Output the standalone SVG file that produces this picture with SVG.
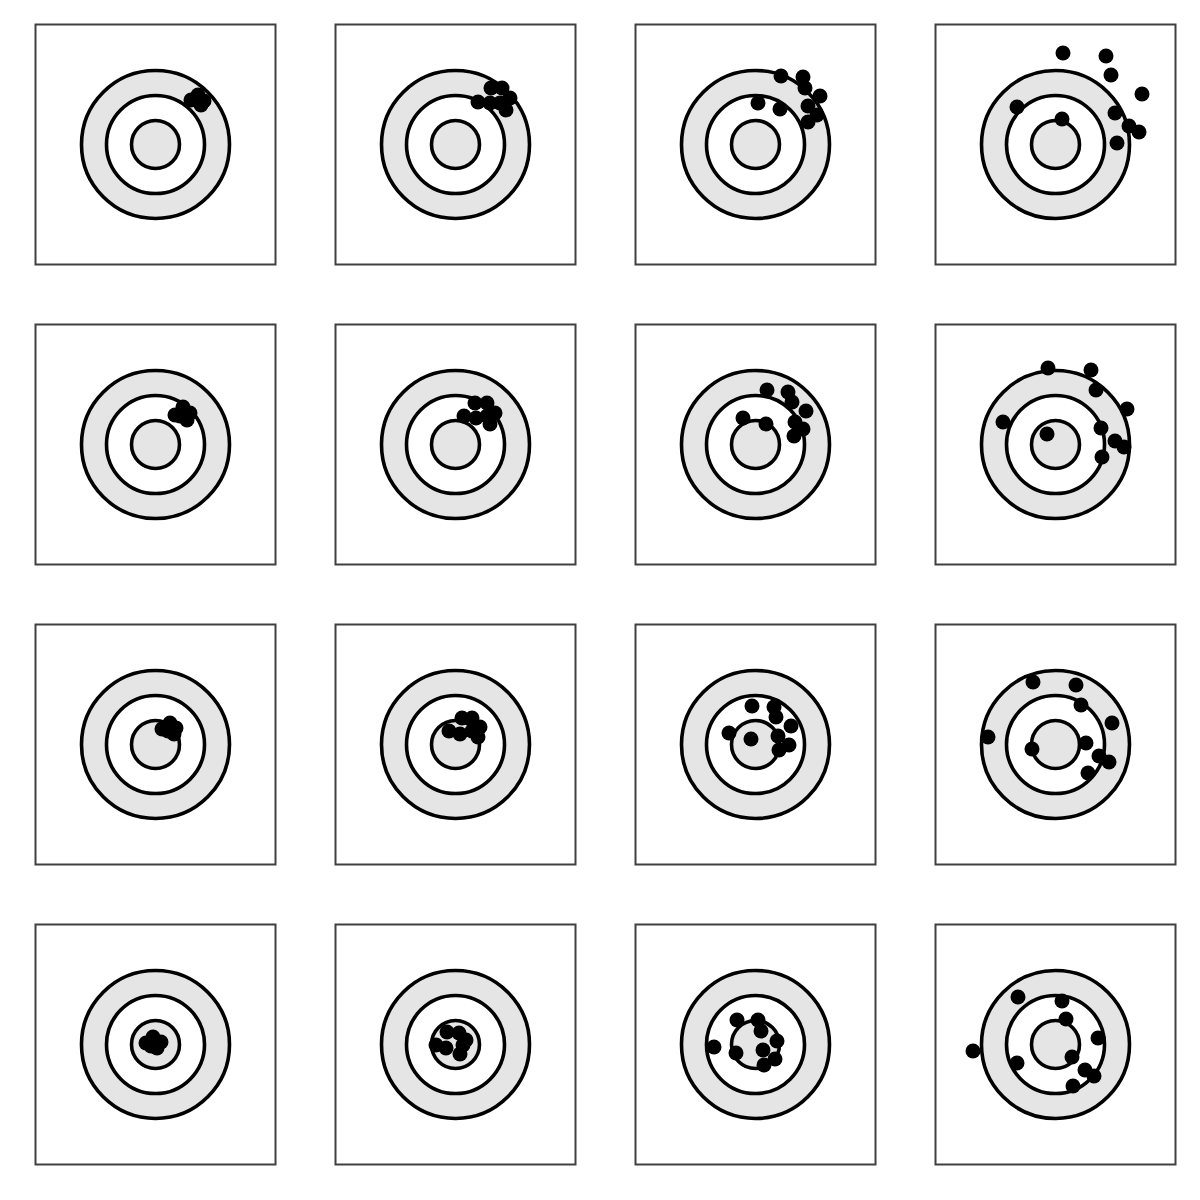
<svg xmlns="http://www.w3.org/2000/svg" xmlns:xlink="http://www.w3.org/1999/xlink" width="1200" height="1200" viewBox="0 0 1200 1200">
<style>
.frame{fill:#fff;stroke:#404040;stroke-width:2}
.ring{stroke:#000;stroke-width:3.6}
.g{fill:#e5e5e5}
.w{fill:#fff}
.d circle{fill:#000}
</style>
<defs>
<g id="target">
<rect class="frame" x="-120" y="-120" width="240" height="240"/>
<circle class="ring g" r="74"/>
<circle class="ring w" r="49"/>
<circle class="ring g" r="24"/>
</g>
</defs>
<rect width="1200" height="1200" fill="#fff"/>
<g id="p11"><use xlink:href="#target" x="155.5" y="144.5"/><g class="d"><circle cx="191" cy="100" r="7.5"/><circle cx="198" cy="95" r="7.5"/><circle cx="204" cy="101" r="7.5"/><circle cx="201" cy="105" r="7.5"/><circle cx="196" cy="99" r="7.5"/></g></g>
<g id="p12"><use xlink:href="#target" x="455.5" y="144.5"/><g class="d"><circle cx="478" cy="102" r="7.5"/><circle cx="491" cy="88" r="7.5"/><circle cx="502" cy="88" r="7.5"/><circle cx="510" cy="98" r="7.5"/><circle cx="506" cy="110" r="7.5"/><circle cx="500" cy="103" r="7.5"/><circle cx="490" cy="103" r="7.5"/></g></g>
<g id="p13"><use xlink:href="#target" x="755.5" y="144.5"/><g class="d"><circle cx="781" cy="76" r="7.5"/><circle cx="803" cy="77" r="7.5"/><circle cx="805" cy="88" r="7.5"/><circle cx="820" cy="96" r="7.5"/><circle cx="758" cy="103" r="7.5"/><circle cx="780" cy="109" r="7.5"/><circle cx="808" cy="106" r="7.5"/><circle cx="817" cy="115" r="7.5"/><circle cx="808" cy="122" r="7.5"/></g></g>
<g id="p14"><use xlink:href="#target" x="1055.5" y="144.5"/><g class="d"><circle cx="1063" cy="53" r="7.5"/><circle cx="1106" cy="56" r="7.5"/><circle cx="1111" cy="75" r="7.5"/><circle cx="1142" cy="94" r="7.5"/><circle cx="1017" cy="107" r="7.5"/><circle cx="1062" cy="119" r="7.5"/><circle cx="1115" cy="113" r="7.5"/><circle cx="1129" cy="126" r="7.5"/><circle cx="1139" cy="132" r="7.5"/><circle cx="1117" cy="143" r="7.5"/></g></g>
<g id="p21"><use xlink:href="#target" x="155.5" y="444.5"/><g class="d"><circle cx="175" cy="415" r="7.5"/><circle cx="183" cy="407" r="7.5"/><circle cx="190" cy="413" r="7.5"/><circle cx="187" cy="420" r="7.5"/><circle cx="180" cy="416" r="7.5"/></g></g>
<g id="p22"><use xlink:href="#target" x="455.5" y="444.5"/><g class="d"><circle cx="464" cy="416" r="7.5"/><circle cx="475" cy="403" r="7.5"/><circle cx="487" cy="403" r="7.5"/><circle cx="495" cy="413" r="7.5"/><circle cx="490" cy="424" r="7.5"/><circle cx="476" cy="418" r="7.5"/><circle cx="487" cy="416" r="7.5"/></g></g>
<g id="p23"><use xlink:href="#target" x="755.5" y="444.5"/><g class="d"><circle cx="767" cy="390" r="7.5"/><circle cx="788" cy="392" r="7.5"/><circle cx="792" cy="402" r="7.5"/><circle cx="806" cy="411" r="7.5"/><circle cx="743" cy="418" r="7.5"/><circle cx="766" cy="424" r="7.5"/><circle cx="795" cy="422" r="7.5"/><circle cx="803" cy="429" r="7.5"/><circle cx="794" cy="436" r="7.5"/></g></g>
<g id="p24"><use xlink:href="#target" x="1055.5" y="444.5"/><g class="d"><circle cx="1048" cy="368" r="7.5"/><circle cx="1091" cy="370" r="7.5"/><circle cx="1096" cy="390" r="7.5"/><circle cx="1127" cy="409" r="7.5"/><circle cx="1003" cy="422" r="7.5"/><circle cx="1047" cy="434" r="7.5"/><circle cx="1101" cy="428" r="7.5"/><circle cx="1115" cy="441" r="7.5"/><circle cx="1124" cy="447" r="7.5"/><circle cx="1102" cy="457" r="7.5"/></g></g>
<g id="p31"><use xlink:href="#target" x="155.5" y="744.5"/><g class="d"><circle cx="162" cy="729" r="7.5"/><circle cx="170" cy="723" r="7.5"/><circle cx="176" cy="728" r="7.5"/><circle cx="174" cy="734" r="7.5"/><circle cx="168" cy="731" r="7.5"/></g></g>
<g id="p32"><use xlink:href="#target" x="455.5" y="744.5"/><g class="d"><circle cx="449" cy="731" r="7.5"/><circle cx="462" cy="718" r="7.5"/><circle cx="472" cy="718" r="7.5"/><circle cx="480" cy="727" r="7.5"/><circle cx="478" cy="737" r="7.5"/><circle cx="460" cy="734" r="7.5"/><circle cx="472" cy="731" r="7.5"/></g></g>
<g id="p33"><use xlink:href="#target" x="755.5" y="744.5"/><g class="d"><circle cx="752" cy="706" r="7.5"/><circle cx="774" cy="707" r="7.5"/><circle cx="776" cy="717" r="7.5"/><circle cx="791" cy="726" r="7.5"/><circle cx="729" cy="733" r="7.5"/><circle cx="751" cy="739" r="7.5"/><circle cx="778" cy="736" r="7.5"/><circle cx="789" cy="745" r="7.5"/><circle cx="779" cy="750" r="7.5"/></g></g>
<g id="p34"><use xlink:href="#target" x="1055.5" y="744.5"/><g class="d"><circle cx="1033" cy="682" r="7.5"/><circle cx="1076" cy="685" r="7.5"/><circle cx="1081" cy="705" r="7.5"/><circle cx="1112" cy="723" r="7.5"/><circle cx="988" cy="737" r="7.5"/><circle cx="1032" cy="749" r="7.5"/><circle cx="1086" cy="743" r="7.5"/><circle cx="1099" cy="756" r="7.5"/><circle cx="1109" cy="762" r="7.5"/><circle cx="1088" cy="773" r="7.5"/></g></g>
<g id="p41"><use xlink:href="#target" x="155.5" y="1044.5"/><g class="d"><circle cx="146" cy="1043" r="7.5"/><circle cx="153" cy="1037" r="7.5"/><circle cx="161" cy="1042" r="7.5"/><circle cx="157" cy="1048" r="7.5"/><circle cx="151" cy="1046" r="7.5"/></g></g>
<g id="p42"><use xlink:href="#target" x="455.5" y="1044.5"/><g class="d"><circle cx="447" cy="1032" r="7.5"/><circle cx="459" cy="1033" r="7.5"/><circle cx="436" cy="1045" r="7.5"/><circle cx="446" cy="1048" r="7.5"/><circle cx="463" cy="1045" r="7.5"/><circle cx="460" cy="1054" r="7.5"/><circle cx="466" cy="1040" r="7.5"/></g></g>
<g id="p43"><use xlink:href="#target" x="755.5" y="1044.5"/><g class="d"><circle cx="737" cy="1020" r="7.5"/><circle cx="758" cy="1020" r="7.5"/><circle cx="761" cy="1031" r="7.5"/><circle cx="777" cy="1041" r="7.5"/><circle cx="714" cy="1047" r="7.5"/><circle cx="736" cy="1053" r="7.5"/><circle cx="763" cy="1050" r="7.5"/><circle cx="775" cy="1059" r="7.5"/><circle cx="764" cy="1065" r="7.5"/></g></g>
<g id="p44"><use xlink:href="#target" x="1055.5" y="1044.5"/><g class="d"><circle cx="1018" cy="997" r="7.5"/><circle cx="1062" cy="1001" r="7.5"/><circle cx="1066" cy="1019" r="7.5"/><circle cx="1098" cy="1038" r="7.5"/><circle cx="973" cy="1051" r="7.5"/><circle cx="1017" cy="1063" r="7.5"/><circle cx="1072" cy="1057" r="7.5"/><circle cx="1085" cy="1070" r="7.5"/><circle cx="1094" cy="1076" r="7.5"/><circle cx="1073" cy="1086" r="7.5"/></g></g>
<g id="connectors"/>
</svg>
